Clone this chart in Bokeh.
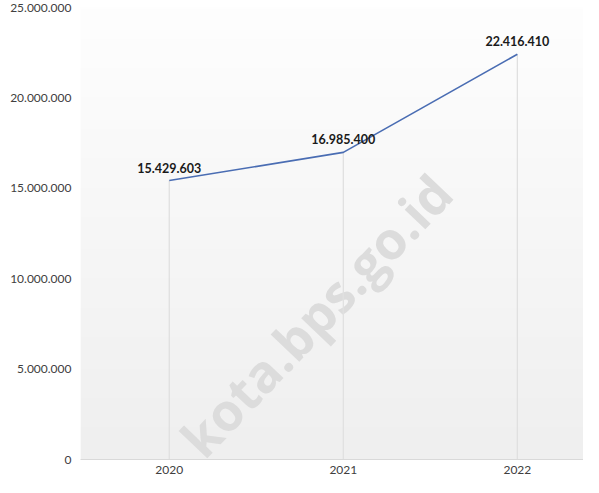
import numpy as np
from bokeh.plotting import figure
from bokeh.models import FixedTicker, Range1d
from bokeh.core.properties import value
from bokeh.embed import file_html
from bokeh.resources import INLINE

# ---- data ----
years = [2020, 2021, 2022]
values = [15429603, 16985400, 22416410]
value_labels = [f"{v:,}".replace(",", ".") for v in values]
y_ticks = [0, 5000000, 10000000, 15000000, 20000000, 25000000]
y_tick_labels = [f"{t:,}".replace(",", ".") for t in y_ticks]
x_tick_labels = [str(y) for y in years]
watermark = "kota.bps.go.id"

FONT = "Lato"

p = figure(width=583, height=477, output_backend="svg", toolbar_location=None,
           x_range=Range1d(2019.49, 2022.38), y_range=Range1d(0, 25000000),
           min_border_left=80, min_border_right=0, min_border_top=7,
           min_border_bottom=18)
p.outline_line_color = None
p.background_fill_color = "white"
p.border_fill_color = "white"

# background gradient inside plot area
n = 200
g = np.linspace(239, 254, n).astype(np.uint32)
img = np.empty((n, 1), dtype=np.uint32)
view = img.view(dtype=np.uint8).reshape((n, 1, 4))
view[:, 0, 0] = g
view[:, 0, 1] = g
view[:, 0, 2] = g
view[:, 0, 3] = 255
p.image_rgba(image=[img], x=p.x_range.start, y=p.y_range.start,
             dw=p.x_range.end - p.x_range.start, dh=p.y_range.end - p.y_range.start)

# watermark
p.text(x=[2020.84], y=[8000000], text=[watermark], angle=0.81,
       text_font=value("Open Sans"), text_font_style="bold",
       text_font_size="52px", text_color="#dcdcdc", text_align="center",
       text_baseline="middle")

# drop lines
p.segment(x0=years, y0=[0] * 3, x1=years, y1=values, line_color="#e0e0e0",
          line_width=1.3)

# series line
p.line(years, values, line_color="#4a6db3", line_width=1.6)

# value labels
p.text(x=years, y=values, text=value_labels, text_font=value(FONT),
       text_font_style="bold", text_font_size="12.5px", text_color="#1a1a1a",
       text_align="center", text_baseline="bottom", y_offset=-8)

# axes
p.yaxis.ticker = FixedTicker(ticks=y_ticks)
p.yaxis.major_label_overrides = {t: l for t, l in zip(y_ticks, y_tick_labels)}
p.yaxis.axis_line_color = None
p.yaxis.major_tick_line_color = None
p.yaxis.minor_tick_line_color = None
p.yaxis.major_tick_out = 0
p.yaxis.minor_tick_out = 0
p.yaxis.major_label_text_font = FONT
p.yaxis.major_label_text_font_size = "12px"
p.yaxis.major_label_text_color = "#404040"
p.yaxis.major_label_standoff = 9

p.xaxis.ticker = FixedTicker(ticks=years)
p.xaxis.major_label_overrides = {y: l for y, l in zip(years, x_tick_labels)}
p.xaxis.axis_line_color = "#d9d9d9"
p.xaxis.major_tick_line_color = None
p.xaxis.minor_tick_line_color = None
p.xaxis.major_tick_out = 0
p.xaxis.minor_tick_out = 0
p.xaxis.major_label_text_font = FONT
p.xaxis.major_label_text_font_size = "12px"
p.xaxis.major_label_text_color = "#404040"
p.xaxis.major_label_standoff = 6

p.xgrid.grid_line_color = None
p.ygrid.grid_line_color = None

open("out.html", "w").write(file_html(p, INLINE))
